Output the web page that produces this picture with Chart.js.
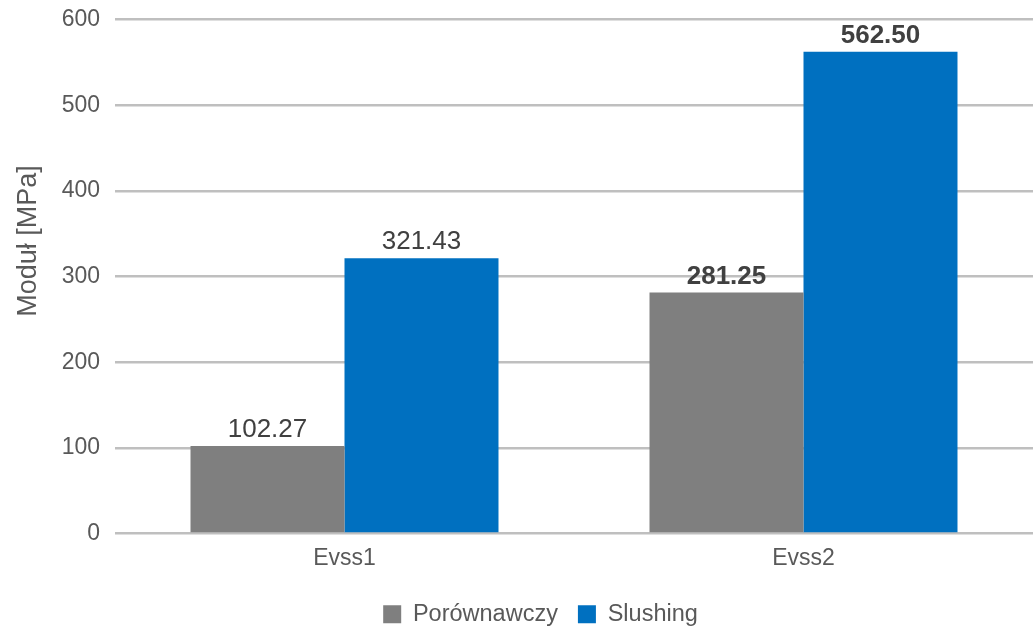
<!DOCTYPE html>
<html lang="pl">
<head>
<meta charset="utf-8">
<title>Moduł Evss</title>
<script src="https://cdn.jsdelivr.net/npm/chart.js@4/dist/chart.umd.min.js"></script>
<style>
  html, body { margin: 0; padding: 0; background: #fff; }
  #wrap { width: 1033px; height: 631px; position: relative; }
</style>
</head>
<body>
<div id="wrap"><canvas id="modulusChart" width="1033" height="631"></canvas></div>
<script>
const categories = ['Evss1', 'Evss2'];
const seriesNames = ['Porównawczy', 'Slushing'];
const porownawczyValues = [102.27, 281.25];
const slushingValues = [321.43, 562.50];
const yTicks = [0, 100, 200, 300, 400, 500, 600];
const axisTitle = 'Moduł [MPa]';

const FONT = "'Liberation Sans', Arial, sans-serif";
const TEXT_GREY = '#595959';

// value labels above each bar; the second group is printed in bold
const valueLabels = {
  id: 'valueLabels',
  afterDatasetsDraw(chart) {
    const ctx = chart.ctx;
    ctx.save();
    ctx.fillStyle = '#404040';
    ctx.textAlign = 'center';
    ctx.textBaseline = 'bottom';
    chart.data.datasets.forEach((ds, di) => {
      chart.getDatasetMeta(di).data.forEach((bar, i) => {
        ctx.font = (i === 1 ? 'bold ' : '') + '26px ' + FONT;
        ctx.fillText(ds.data[i].toFixed(2), bar.x, bar.y - 3);
      });
    });
    ctx.restore();
  }
};

// vertical axis title, drawn a bit above the plot centre
const sideTitle = {
  id: 'sideTitle',
  afterDraw(chart) {
    const ctx = chart.ctx;
    ctx.save();
    ctx.translate(29, 241);
    ctx.rotate(-Math.PI / 2);
    ctx.font = '27px ' + FONT;
    ctx.fillStyle = TEXT_GREY;
    ctx.textAlign = 'center';
    ctx.textBaseline = 'middle';
    ctx.fillText(axisTitle, 0, 0);
    ctx.restore();
  }
};

// nudge the legend row right and down a little
const legendShift = {
  id: 'legendShift',
  afterLayout(chart) {
    const lg = chart.legend;
    if (!lg) return;
    lg.left += 48;
    lg.top += 5;
    lg.bottom += 5;
  }
};

const ctx = document.getElementById('modulusChart').getContext('2d');
new Chart(ctx, {
  type: 'bar',
  data: {
    labels: categories,
    datasets: [
      { label: seriesNames[0], data: porownawczyValues, backgroundColor: '#7f7f7f' },
      { label: seriesNames[1], data: slushingValues, backgroundColor: '#0070c0' }
    ]
  },
  options: {
    responsive: false,
    animation: false,
    devicePixelRatio: 1,
    layout: { padding: { top: 19.5, right: 0, bottom: 0, left: 0 } },
    datasets: {
      bar: { categoryPercentage: 0.671, barPercentage: 1.0 }
    },
    plugins: {
      legend: {
        position: 'bottom',
        labels: {
          boxWidth: 18,
          boxHeight: 18,
          padding: 20,
          color: TEXT_GREY,
          font: { family: FONT, size: 23.5 }
        }
      },
      tooltip: { enabled: false }
    },
    scales: {
      x: {
        grid: { display: false, drawTicks: false },
        border: { display: false },
        ticks: { color: TEXT_GREY, font: { family: FONT, size: 23 }, padding: 11 },
        afterFit: (scale) => { scale.height = 44; }
      },
      y: {
        min: 0,
        max: 600,
        afterBuildTicks: (scale) => { scale.ticks = yTicks.map(v => ({ value: v })); },
        grid: { color: '#bfbfbf', lineWidth: 2.5, drawTicks: false },
        border: { display: false },
        ticks: { color: TEXT_GREY, font: { family: FONT, size: 23 }, padding: 15 },
        afterFit: (scale) => {
          scale.width = 115;
          scale.paddingTop = 0;
        }
      }
    }
  },
  plugins: [valueLabels, sideTitle, legendShift]
});
</script>
</body>
</html>
